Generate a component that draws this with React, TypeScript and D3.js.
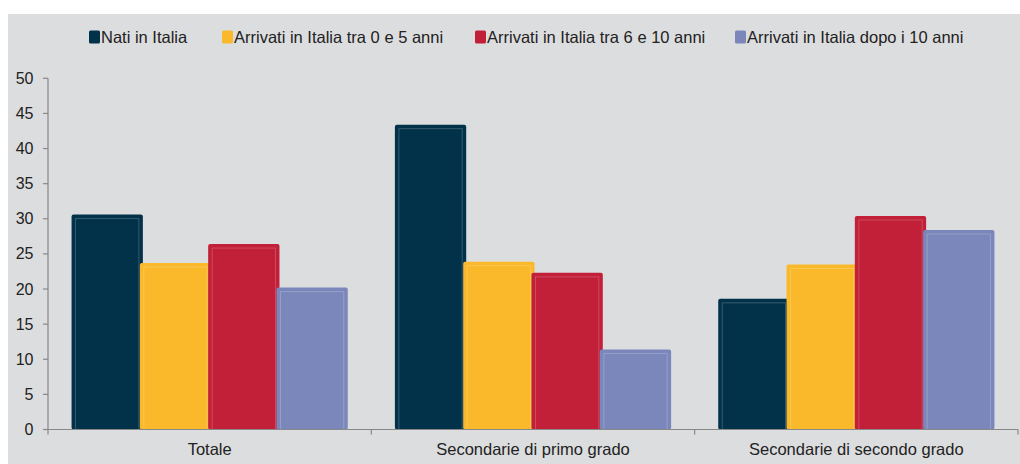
import React from "react";
import * as d3 from "d3";

const categories = ["Totale", "Secondarie di primo grado", "Secondarie di secondo grado"];
const seriesNames = [
  "Nati in Italia",
  "Arrivati in Italia tra 0 e 5 anni",
  "Arrivati in Italia tra 6 e 10 anni",
  "Arrivati in Italia dopo i 10 anni",
];
const seriesColors = ["#02324a", "#f9b92b", "#c21f38", "#7b87bb"];
const natiValues = [30.6, 43.4, 18.6];
const arr05Values = [23.7, 23.9, 23.5];
const arr610Values = [26.4, 22.3, 30.4];
const arr10Values = [20.2, 11.4, 28.4];
const yTicks = [0, 5, 10, 15, 20, 25, 30, 35, 40, 45, 50];

const seriesValues = [natiValues, arr05Values, arr610Values, arr10Values];

const W = 1020;
const H = 464;
const left = 48;
const right = 1018;
const top = 78.3;
const bottom = 429.5;
const FONT = "'Liberation Sans', Arial, sans-serif";

export default function App() {
  const y = d3.scaleLinear().domain([0, 50]).range([bottom, top]);
  const x0 = d3
    .scaleBand<string>()
    .domain(categories)
    .range([left, right])
    .paddingInner(0.155)
    .paddingOuter(0.0775);
  const x1 = d3
    .scaleBand<string>()
    .domain(seriesNames)
    .range([0, x0.bandwidth()])
    .padding(0);
  const bw = x1.bandwidth();
  const step = (right - left) / categories.length;
  const legendX = [89, 222, 475, 735];

  return (
    <svg
      width={W}
      height={H}
      style={{ position: "absolute", left: 0, top: 0, display: "block" }}
      fontFamily={FONT}
    >
      <rect x={8} y={14} width={W - 8} height={H - 14} fill="#dcdddf" />
      {/* legend */}
      {seriesNames.map((s, i) => (
        <g key={s}>
          <rect x={legendX[i]} y={30.5} width={11} height={13} rx={1.5} fill={seriesColors[i]} />
          <text x={legendX[i] + 12} y={42.5} fontSize={16.5} fill="#222">
            {s}
          </text>
        </g>
      ))}
      {/* bars */}
      {categories.map((c, ci) => (
        <g key={c} transform={`translate(${x0(c)},0)`}>
          {seriesNames.map((s, si) => {
            const v = seriesValues[si][ci];
            const bx = (x1(s) as number) - 1.5;
            const by = y(v);
            const w = bw + 3;
            const h = bottom - by;
            return (
              <g key={s}>
                <rect x={bx} y={by} width={w} height={h} rx={2} fill={seriesColors[si]} />
                <rect
                  x={bx + 4}
                  y={by + 4}
                  width={w - 8}
                  height={h - 4}
                  fill="none"
                  stroke="#ffffff"
                  strokeOpacity={0.2}
                  strokeWidth={1}
                />
              </g>
            );
          })}
        </g>
      ))}
      {/* y axis */}
      <line x1={left} x2={left} y1={top} y2={bottom} stroke="#888" strokeWidth={1.2} />
      {yTicks.map((t) => (
        <g key={t}>
          <line x1={left - 5} x2={left} y1={y(t)} y2={y(t)} stroke="#888" strokeWidth={1.2} />
          <text x={33.5} y={y(t) + 5.5} fontSize={16} fill="#222" textAnchor="end">
            {t}
          </text>
        </g>
      ))}
      {/* x axis */}
      <line x1={left - 5} x2={right} y1={bottom} y2={bottom} stroke="#888" strokeWidth={1.2} />
      {d3.range(categories.length + 1).map((i) => (
        <line
          key={i}
          x1={left + i * step}
          x2={left + i * step}
          y1={bottom}
          y2={bottom + 5}
          stroke="#888"
          strokeWidth={1.2}
        />
      ))}
      {categories.map((c) => (
        <text
          key={c}
          x={(x0(c) as number) + x0.bandwidth() / 2}
          y={455}
          fontSize={16.5}
          fill="#222"
          textAnchor="middle"
        >
          {c}
        </text>
      ))}
    </svg>
  );
}
